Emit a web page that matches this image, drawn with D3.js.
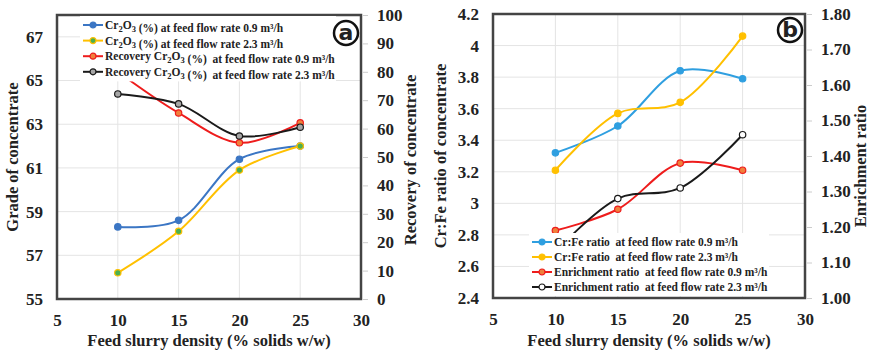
<!DOCTYPE html>
<html>
<head>
<meta charset="utf-8">
<script src="https://cdn.jsdelivr.net/npm/d3@7"></script>
<style>
  body { margin: 0; background: #fff; }
  svg { display: block; }
  text { font-family: "Liberation Serif", "Times New Roman", serif; font-weight: bold; fill: #222; }
</style>
</head>
<body>
<svg id="chart" width="873" height="354"></svg>
<script>
// x values shared by both panels (% solids w/w)
const density = [10, 15, 20, 25];

// panel (a): grade and recovery of Cr2O3
const gradeLow = [58.3, 58.6, 61.4, 62.0];
const gradeHigh = [56.2, 58.1, 60.9, 62.0];
const recoveryLow = [80.0, 65.5, 55.0, 62.0];
const recoveryHigh = [72.2, 68.7, 57.4, 60.5];

// panel (b): Cr:Fe ratio and enrichment ratio
const ratioLow = [3.32, 3.49, 3.84, 3.79];
const ratioHigh = [3.21, 3.57, 3.64, 4.06];
const enrichLow = [1.19, 1.25, 1.38, 1.36];
const enrichHigh = [1.13, 1.28, 1.31, 1.46];

// tick labels
const xTicks = [5, 10, 15, 20, 25, 30];
const gradeTicks = [55, 57, 59, 61, 63, 65, 67];
const recoveryTicks = [0, 10, 20, 30, 40, 50, 60, 70, 80, 90, 100];
const ratioTicks = [2.4, 2.6, 2.8, 3, 3.2, 3.4, 3.6, 3.8, 4, 4.2];
const enrichTicks = [1.0, 1.1, 1.2, 1.3, 1.4, 1.5, 1.6, 1.7, 1.8];

const svg = d3.select("#chart");

// draw the legend label, with Cr2O3 subscripts where needed
function legendText(sel, label) {
  const parts = label.split("Cr2O3");
  parts.forEach((p, i) => {
    sel.append("tspan").text(p);
    if (i < parts.length - 1) {
      sel.append("tspan").text("Cr");
      sel.append("tspan").attr("font-size", 8.5).attr("dy", 3).text("2");
      sel.append("tspan").attr("dy", -3).text("O");
      sel.append("tspan").attr("font-size", 8.5).attr("dy", 3).text("3");
      sel.append("tspan").attr("dy", -3).text("");
    }
  });
}

function panel(cfg) {
  const g = svg.append("g");
  const x = d3.scaleLinear().domain([5, 30]).range([cfg.left, cfg.right]);
  const yL = d3.scaleLinear().domain(cfg.leftDomain).range([cfg.bottom, cfg.top]);
  const yR = d3.scaleLinear().domain(cfg.rightDomain).range([cfg.bottom, cfg.top]);

  // gridlines
  g.append("g").selectAll("line.h")
    .data(cfg.leftTicks.slice(1))
    .join("line")
    .attr("x1", cfg.left).attr("x2", cfg.right)
    .attr("y1", d => yL(d)).attr("y2", d => yL(d))
    .attr("stroke", "#e4e4e4").attr("stroke-width", 1);
  g.append("g").selectAll("line.v")
    .data(xTicks.slice(1, -1))
    .join("line")
    .attr("x1", d => x(d)).attr("x2", d => x(d))
    .attr("y1", cfg.top).attr("y2", cfg.bottom)
    .attr("stroke", "#e4e4e4").attr("stroke-width", 1);

  // axes (labels only, frame drawn separately)
  const xAxis = g.append("g")
    .attr("transform", `translate(0,${cfg.bottom})`)
    .call(d3.axisBottom(x).tickValues(xTicks).tickSize(0).tickPadding(15));
  const yAxisL = g.append("g")
    .attr("transform", `translate(${cfg.left},0)`)
    .call(d3.axisLeft(yL).tickValues(cfg.leftTicks).tickFormat(cfg.leftFormat).tickSize(0).tickPadding(14));
  const yAxisR = g.append("g")
    .attr("transform", `translate(${cfg.right},0)`)
    .call(d3.axisRight(yR).tickValues(cfg.rightTicks).tickFormat(cfg.rightFormat).tickSize(6).tickPadding(10));
  [xAxis, yAxisL, yAxisR].forEach(a => {
    a.select(".domain").remove();
    a.selectAll("text").style("font-size", "17px").style("font-family", "'Liberation Serif', serif")
      .style("font-weight", "bold").attr("fill", "#222");
  });
  yAxisR.selectAll(".tick line").attr("stroke", "#ccc").attr("x1", 2).attr("x2", 7);

  // frame
  g.append("rect")
    .attr("x", cfg.left).attr("y", cfg.top)
    .attr("width", cfg.right - cfg.left).attr("height", cfg.bottom - cfg.top)
    .attr("fill", "none").attr("stroke", "#444").attr("stroke-width", 2.5);

  // series
  const line = d3.line().curve(d3.curveCatmullRom.alpha(0.5));
  cfg.series.forEach(s => {
    const y = s.axis === "left" ? yL : yR;
    const pts = density.map((d, i) => [x(d), y(s.values[i])]);
    g.append("path")
      .attr("d", line(pts))
      .attr("fill", "none").attr("stroke", s.color).attr("stroke-width", 2);
    g.selectAll(null)
      .data(pts)
      .join("circle")
      .attr("cx", d => d[0]).attr("cy", d => d[1])
      .attr("r", 3.2)
      .attr("fill", s.fill).attr("stroke", s.color).attr("stroke-width", 1.2);
  });

  // legend with white background
  const lg = g.append("g").attr("transform", `translate(${cfg.legendX},${cfg.legendY})`);
  lg.append("rect")
    .attr("x", -3).attr("y", -9)
    .attr("width", cfg.legendW).attr("height", cfg.series.length * cfg.legendStep + 3)
    .attr("fill", "#fff");
  cfg.series.forEach((s, i) => {
    const row = lg.append("g").attr("transform", `translate(0,${i * cfg.legendStep})`);
    row.append("line").attr("x1", 0).attr("x2", 20).attr("y1", 0).attr("y2", 0)
      .attr("stroke", s.color).attr("stroke-width", 2);
    row.append("circle").attr("cx", 10).attr("cy", 0).attr("r", 3)
      .attr("fill", s.fill).attr("stroke", s.color).attr("stroke-width", 1.2);
    const t = row.append("text").attr("x", 22).attr("y", 4)
      .attr("font-size", cfg.legendFont).style("white-space", "pre");
    legendText(t, s.label);
  });

  // panel letter
  g.append("circle").attr("cx", cfg.badgeX).attr("cy", cfg.badgeY).attr("r", 12)
    .attr("fill", "#fff").attr("stroke", "#111").attr("stroke-width", 2.5);
  g.append("text").attr("x", cfg.badgeX).attr("y", cfg.badgeY + 7)
    .attr("text-anchor", "middle").attr("font-size", 22)
    .style("font-family", "'DejaVu Sans', sans-serif").attr("fill", "#111")
    .text(cfg.badge);

  // axis titles
  const midY = (cfg.top + cfg.bottom) / 2;
  g.append("text")
    .attr("x", (cfg.left + cfg.right) / 2).attr("y", 346)
    .attr("text-anchor", "middle").attr("font-size", 16.5)
    .text("Feed slurry density (% solids w/w)");
  g.append("text")
    .attr("transform", `translate(${cfg.leftTitleX},${midY}) rotate(-90)`)
    .attr("text-anchor", "middle").attr("font-size", 16.5)
    .text(cfg.leftTitle);
  g.append("text")
    .attr("transform", `translate(${cfg.rightTitleX},${cfg.rightTitleY}) rotate(-90)`)
    .attr("text-anchor", "middle").attr("font-size", 16.5)
    .text(cfg.rightTitle);
}

panel({
  left: 57, right: 361, top: 15, bottom: 299,
  leftDomain: [55, 68], rightDomain: [0, 100],
  leftTicks: gradeTicks, rightTicks: recoveryTicks,
  leftFormat: d3.format("d"), rightFormat: d3.format("d"),
  leftTitle: "Grade of concentrate", leftTitleX: 18,
  rightTitle: "Recovery of concentrate", rightTitleX: 416, rightTitleY: 160,
  legendX: 83, legendY: 25, legendW: 256, legendStep: 15.6, legendFont: 11.5,
  badge: "a", badgeX: 346, badgeY: 33,
  series: [
    { label: "Cr2O3 (%) at feed flow rate 0.9 m³/h", values: gradeLow, axis: "left", color: "#3b76c4", fill: "#3b76c4" },
    { label: "Cr2O3 (%) at feed flow rate 2.3 m³/h", values: gradeHigh, axis: "left", color: "#ffc000", fill: "#4caf50" },
    { label: "Recovery Cr2O3 (%)  at feed flow rate 0.9 m³/h", values: recoveryLow, axis: "right", color: "#ee1c1c", fill: "#f0803c" },
    { label: "Recovery Cr2O3 (%)  at feed flow rate 2.3 m³/h", values: recoveryHigh, axis: "right", color: "#1a1a1a", fill: "#a6a6a6" }
  ]
});

panel({
  left: 493, right: 805, top: 14, bottom: 298,
  leftDomain: [2.4, 4.2], rightDomain: [1.0, 1.8],
  leftTicks: ratioTicks, rightTicks: enrichTicks,
  leftFormat: d3.format(""), rightFormat: d3.format(".2f"),
  leftTitle: "Cr:Fe ratio of concentrate", leftTitleX: 446,
  rightTitle: "Enrichment ratio", rightTitleX: 866, rightTitleY: 166,
  legendX: 532, legendY: 242, legendW: 240, legendStep: 15, legendFont: 11.5,
  badge: "b", badgeX: 790, badgeY: 30,
  series: [
    { label: "Cr:Fe ratio  at feed flow rate 0.9 m³/h", values: ratioLow, axis: "left", color: "#2f9fe0", fill: "#2f9fe0" },
    { label: "Cr:Fe ratio  at feed flow rate 2.3 m³/h", values: ratioHigh, axis: "left", color: "#ffc000", fill: "#ffc000" },
    { label: "Enrichment ratio  at feed flow rate 0.9 m³/h", values: enrichLow, axis: "right", color: "#ee1c1c", fill: "#f0803c" },
    { label: "Enrichment ratio  at feed flow rate 2.3 m³/h", values: enrichHigh, axis: "right", color: "#1a1a1a", fill: "#ffffff" }
  ]
});
</script>
</body>
</html>
